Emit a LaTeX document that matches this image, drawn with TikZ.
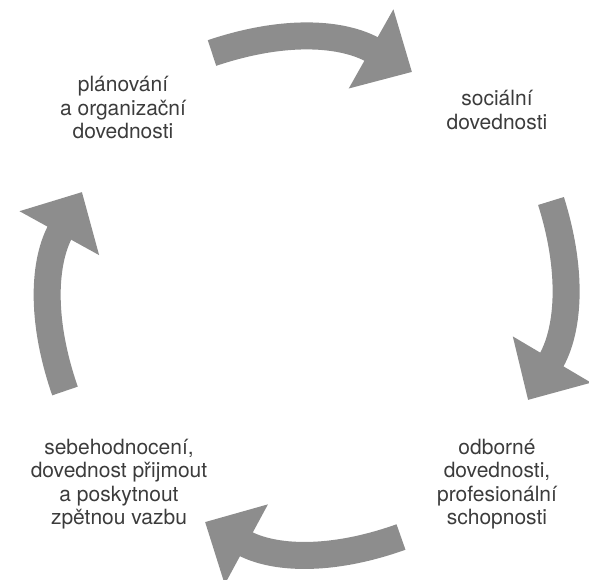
\documentclass[tikz,border=0pt]{standalone}
\usepackage{fontspec}
\setmainfont{TeX Gyre Heros}
\usepackage{tikz}
\usetikzlibrary{arrows.meta,positioning}
\definecolor{cycArrow}{RGB}{141,141,141}
\definecolor{cycText}{RGB}{60,60,60}
\tikzset{
    cycLabel/.style={
        align=center,
        text=cycText,
        inner sep=0pt,
        font=\fontsize{21}{23.5}\selectfont
    },
    % fat curved arrows
    cycArrowBase/.style={
        draw=cycArrow,
        line width=27pt,
        -{Triangle[length=47pt, width=88pt]}
    }
}
\begin{document}
\begin{tikzpicture}[x=1pt, y=-1pt]
\useasboundingbox (0,0) rectangle (589,580);

\node[cycLabel] (plan) at (123,108) {plánování\\a organizační\\dovednosti};
\node[cycLabel] (social) at (497,110) {sociální\\dovednosti};
\node[cycLabel] (prof) at (497,484) {odborné\\dovednosti,\\profesionální\\schopnosti};
\node[cycLabel] (self) at (119,484) {sebehodnocení,\\dovednost přijmout\\a poskytnout\\zpětnou vazbu};

\coordinate (topT) at (212,53);
\coordinate (topH) at (412,72);
\coordinate (rightT) at (551,201);
\coordinate (rightH) at (528,400);
\coordinate (botT) at (401,537);
\coordinate (botH) at (205,522);
\coordinate (leftT) at (65,391);
\coordinate (leftH) at (82,192);

\draw[cycArrowBase] (topT) to[bend left=24] (topH);
\draw[cycArrowBase] (rightT) to[bend left=24] (rightH);
\draw[cycArrowBase] (botT) to[bend left=24] (botH);
\draw[cycArrowBase] (leftT) to[bend left=24] (leftH);
\end{tikzpicture}
\end{document}
